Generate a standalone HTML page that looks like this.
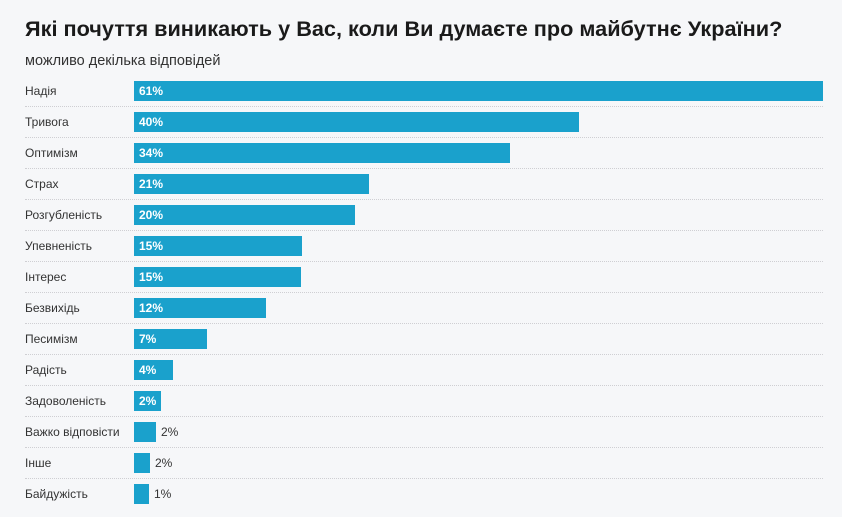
<!DOCTYPE html>
<html><head><meta charset="utf-8">
<style>
html,body{margin:0;padding:0;}
body{width:842px;height:517px;background:#f6f7f9;position:relative;overflow:hidden;font-family:"Liberation Sans",Arial,sans-serif;}
.title{position:absolute;left:25px;top:16px;font-size:21.7px;font-weight:bold;color:#1a1a1a;white-space:nowrap;}
.sub{position:absolute;left:25px;top:53px;font-size:14.5px;color:#333;white-space:nowrap;}
.row{position:absolute;left:25px;width:798px;height:31px;}
.lab{position:absolute;left:0;top:0;height:20px;line-height:20px;font-size:12px;color:#333;white-space:nowrap;}
.bar{position:absolute;left:109px;top:0;height:20px;background:#1aa1cc;}
.in{position:absolute;left:5px;top:0;line-height:20px;font-size:12px;font-weight:bold;color:#fff;}
.out{position:absolute;top:0;line-height:20px;font-size:12px;color:#333;}
.line{position:absolute;left:0;top:25px;width:798px;height:0;border-top:1px dotted #cfcfd3;}
</style></head><body>
<div class="title">Які почуття виникають у Вас, коли Ви думаєте про майбутнє України?</div>
<div class="sub">можливо декілька відповідей</div>

<div class="row" style="top:81px"><div class="lab">Надія</div><div class="bar" style="width:689px"><span class="in">61%</span></div><div class="line"></div></div>
<div class="row" style="top:112px"><div class="lab">Тривога</div><div class="bar" style="width:445px"><span class="in">40%</span></div><div class="line"></div></div>
<div class="row" style="top:143px"><div class="lab">Оптимізм</div><div class="bar" style="width:376px"><span class="in">34%</span></div><div class="line"></div></div>
<div class="row" style="top:174px"><div class="lab">Страх</div><div class="bar" style="width:235px"><span class="in">21%</span></div><div class="line"></div></div>
<div class="row" style="top:205px"><div class="lab">Розгубленість</div><div class="bar" style="width:221px"><span class="in">20%</span></div><div class="line"></div></div>
<div class="row" style="top:236px"><div class="lab">Упевненість</div><div class="bar" style="width:168px"><span class="in">15%</span></div><div class="line"></div></div>
<div class="row" style="top:267px"><div class="lab">Інтерес</div><div class="bar" style="width:167px"><span class="in">15%</span></div><div class="line"></div></div>
<div class="row" style="top:298px"><div class="lab">Безвихідь</div><div class="bar" style="width:132px"><span class="in">12%</span></div><div class="line"></div></div>
<div class="row" style="top:329px"><div class="lab">Песимізм</div><div class="bar" style="width:73px"><span class="in">7%</span></div><div class="line"></div></div>
<div class="row" style="top:360px"><div class="lab">Радість</div><div class="bar" style="width:39px"><span class="in">4%</span></div><div class="line"></div></div>
<div class="row" style="top:391px"><div class="lab">Задоволеність</div><div class="bar" style="width:27px"><span class="in">2%</span></div><div class="line"></div></div>
<div class="row" style="top:422px"><div class="lab">Важко відповісти</div><div class="bar" style="width:22px"></div><span class="out" style="left:136px">2%</span><div class="line"></div></div>
<div class="row" style="top:453px"><div class="lab">Інше</div><div class="bar" style="width:16px"></div><span class="out" style="left:130px">2%</span><div class="line"></div></div>
<div class="row" style="top:484px"><div class="lab">Байдужість</div><div class="bar" style="width:15px"></div><span class="out" style="left:129px">1%</span></div>
</body></html>
